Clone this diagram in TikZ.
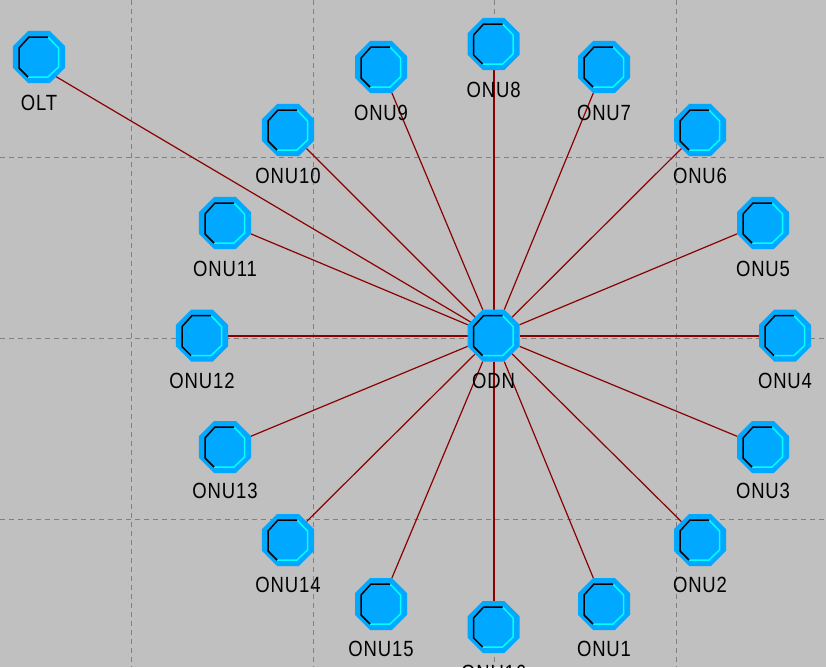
\documentclass[tikz,border=0pt]{standalone}
\usepackage{fontspec}
\setmainfont[FakeStretch=0.84,LetterSpace=4]{Liberation Sans}
\usetikzlibrary{shapes.geometric,backgrounds}
\definecolor{bgray}{HTML}{C0C0C0}
\definecolor{gridgray}{HTML}{808080}
\definecolor{nodeblue}{HTML}{00A8FF}
\definecolor{hicyan}{HTML}{00FFFF}
\definecolor{linkred}{HTML}{8B0000}
\tikzset{
  octonode/.style={regular polygon,regular polygon sides=8,
    minimum size=56.3pt,inner sep=0pt,outer sep=0pt,fill=nodeblue,
    path picture={
      \begin{scope}[shift={(path picture bounding box.center)}]
        \draw[hicyan,line width=1.5pt,line join=miter] (9,-20)--(19.5,-9)--(19.5,10)--(9,20)--(-11,20);
        \draw[black,line width=1.5pt,line join=miter] (-11,20)--(-20,11)--(-20,-9)--(-10,-20)--(9,-20);
      \end{scope}
    }},
  namelabel/.style={inner sep=0pt,font=\fontsize{22}{22}\selectfont,text=black},
  griddash/.style={gridgray,line width=1pt,dash pattern=on 5pt off 4pt},
  link/.style={linkred,line width=1.2pt},
  linkheavy/.style={linkred,line width=2pt}
}
\begin{document}
\begin{tikzpicture}[x=1pt,y=-1pt]
\useasboundingbox (0,0) rectangle (826,667);
\clip (0,0) rectangle (826,667);
\foreach \n/\x/\y/\ly in {OLT/39/57/103,ODN/493.6/335.6/381,ONU1/604/604/649,ONU2/700/540/585,ONU3/763/447/491,ONU4/785/335.6/381,ONU5/763/223/269,ONU6/700/130/176,ONU7/604/67/113,ONU8/493.6/44/90,ONU9/381/67/113,ONU10/288/130/176,ONU11/225/223/269,ONU12/202/335.6/381,ONU13/225/447/491,ONU14/288/540/585,ONU15/381/604/649,ONU16/493.6/627/673}{
  \node[octonode] (\n) at (\x,\y) {};
  \node[namelabel] (\n-label) at (\x,\ly) {\n};
}
\coordinate (OLT-port) at (55,76);
\begin{scope}[on background layer]
  \fill[bgray] (0,0) rectangle (826,667);
  \foreach \x in {131,313,494,676}{\draw[griddash] (\x,0)--(\x,667);}
  \foreach \y in {157,338.3,519}{\draw[griddash] (0,\y)--(826,\y);}
  \draw[link] (ODN)--(OLT-port);
  \foreach \n in {ONU1,ONU2,ONU3,ONU5,ONU6,ONU7,ONU9,ONU10,ONU11,ONU13,ONU14,ONU15}{\draw[link] (ODN)--(\n);}
  \foreach \n in {ONU4,ONU8,ONU12,ONU16}{\draw[linkheavy] (ODN)--(\n);}
\end{scope}
\end{tikzpicture}
\end{document}
